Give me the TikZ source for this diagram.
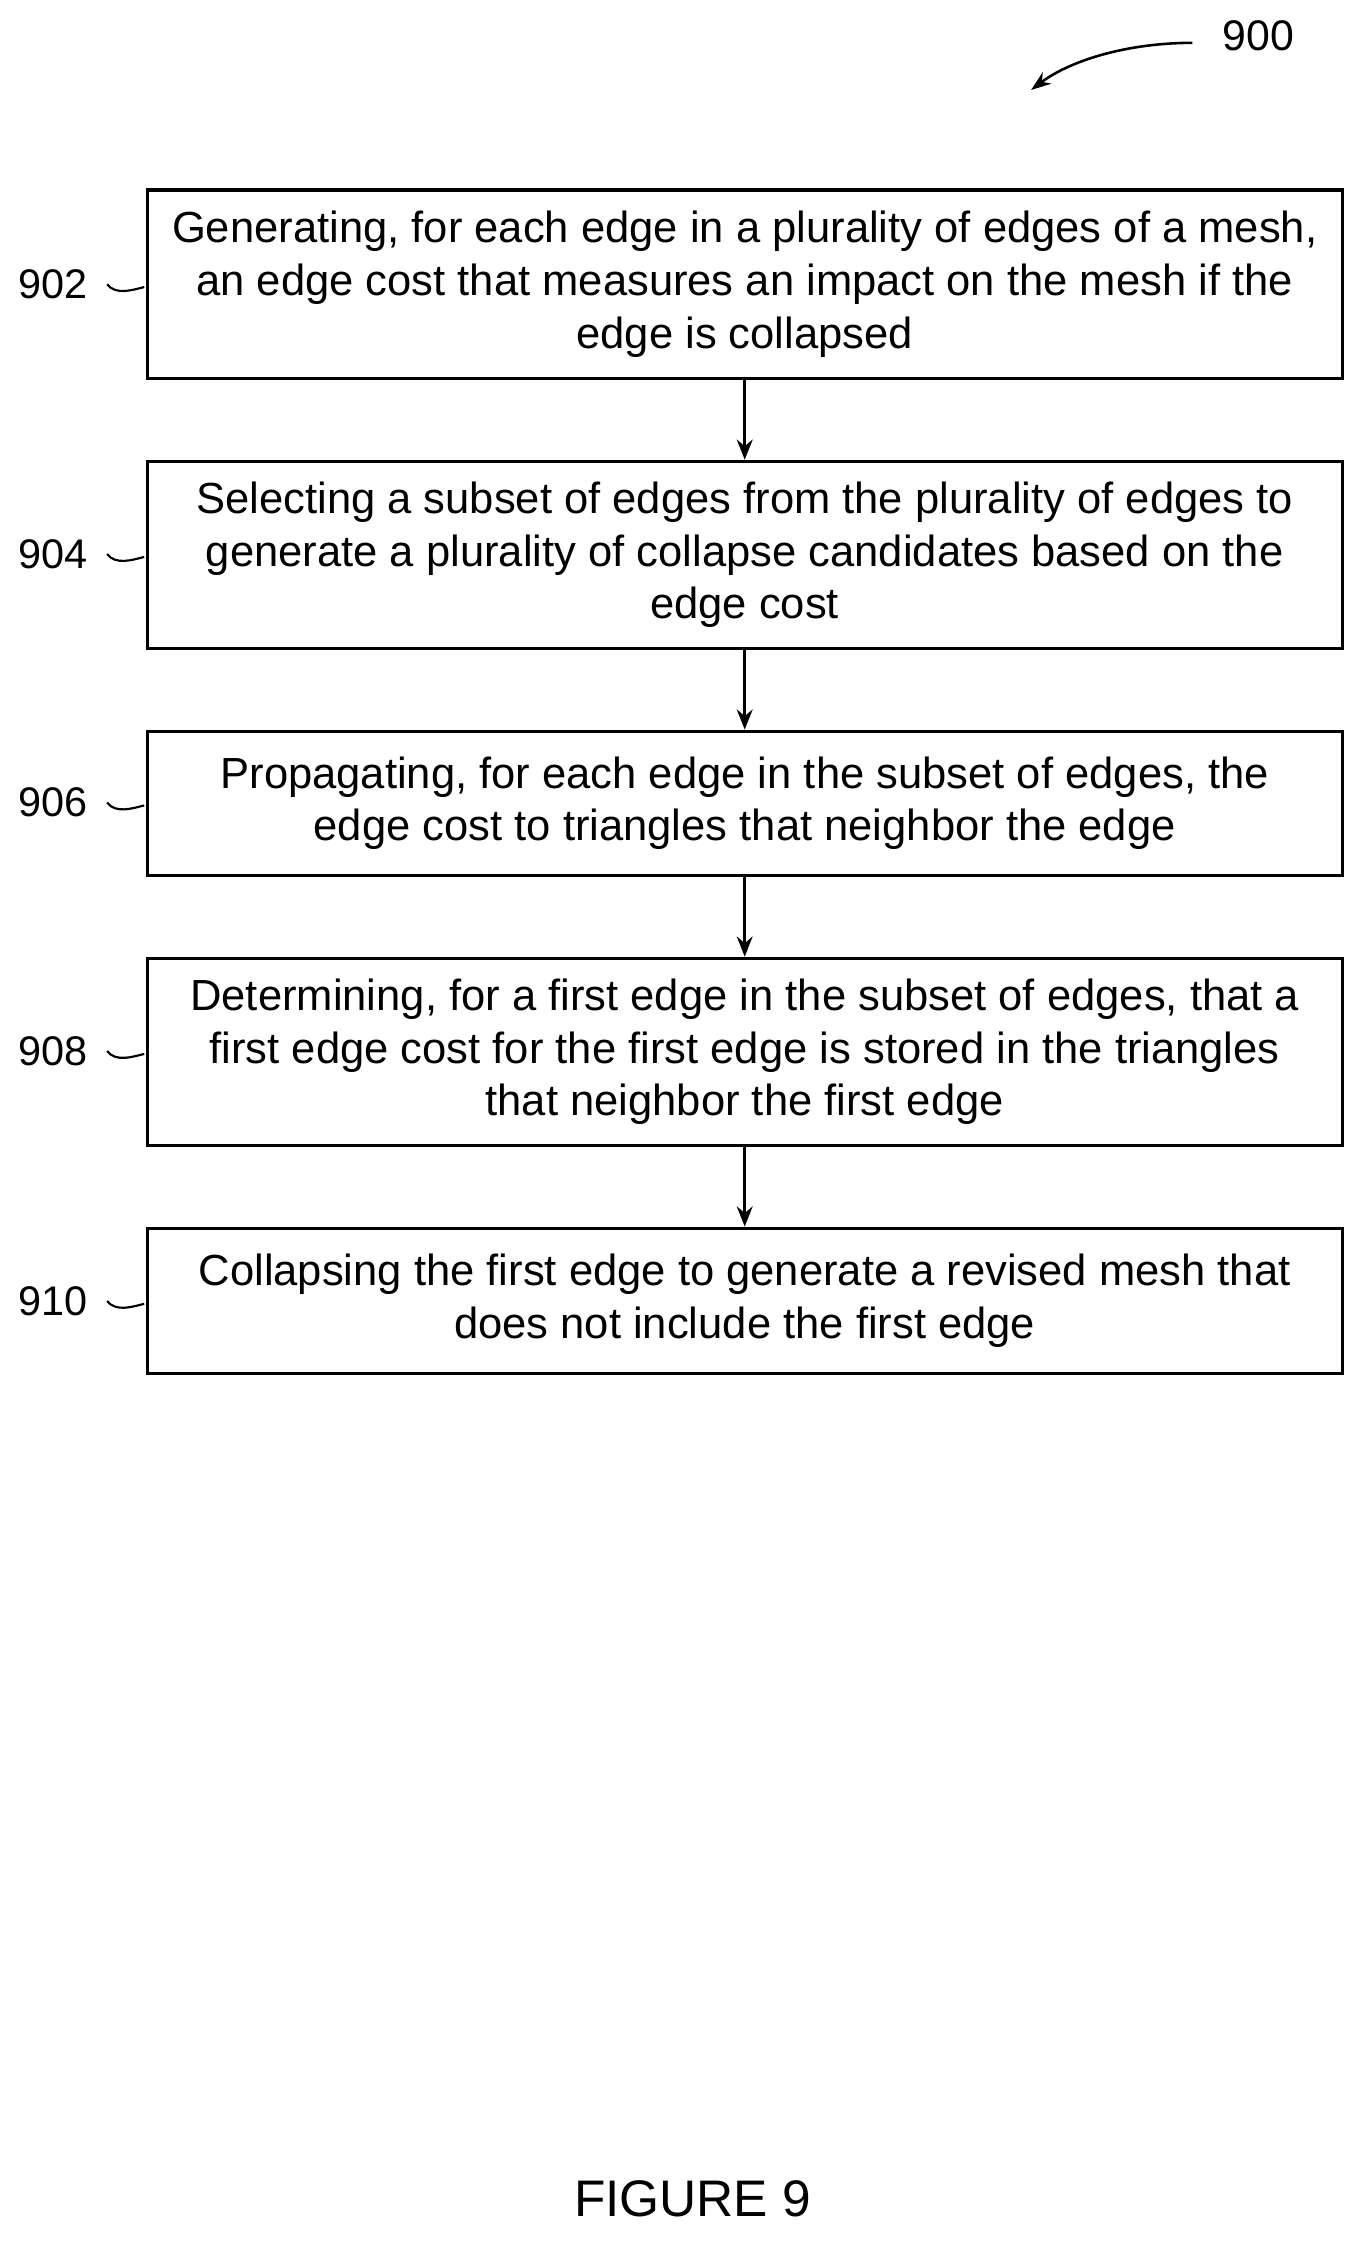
\documentclass[tikz,border=0pt]{standalone}
\usepackage{fontspec}
\setmainfont{Liberation Sans}
\usetikzlibrary{arrows.meta}
\begin{document}
\begin{tikzpicture}[x=1pt,y=-1pt,
  stepbox/.style={draw,line width=2.2pt,minimum width=837pt,align=center,inner sep=0pt,font=\fontsize{30.5}{37}\selectfont},
  lbl/.style={font=\fontsize{29}{30}\selectfont,anchor=east},
  arr/.style={-{Stealth[length=14pt,width=11pt]},line width=2.4pt},
  tild/.style={line width=1.5pt}]
\useasboundingbox (0,0) rectangle (960,1577);
\node[stepbox,minimum height=132pt] (b1) at (521.5,199) {Generating, for each edge in a plurality of edges of a mesh,\\an edge cost that measures an impact on the mesh if the\\edge is collapsed};
\node[stepbox,minimum height=131pt] (b2) at (521.5,388.5) {Selecting a subset of edges from the plurality of edges to\\generate a plurality of collapse candidates based on the\\edge cost};
\node[stepbox,minimum height=101pt] (b3) at (521.5,562.5) {Propagating, for each edge in the subset of edges, the\\edge cost to triangles that neighbor the edge};
\node[stepbox,minimum height=131pt] (b4) at (521.5,736.5) {Determining, for a first edge in the subset of edges, that a\\first edge cost for the first edge is stored in the triangles\\that neighbor the first edge};
\node[stepbox,minimum height=102pt] (b5) at (521.5,911) {Collapsing the first edge to generate a revised mesh that\\does not include the first edge};
\draw[arr] (b1) -- (b2);
\draw[arr] (b2) -- (b3);
\draw[arr] (b3) -- (b4);
\draw[arr] (b4) -- (b5);
\foreach \n/\t/\yy in {l1/902/199,l2/904/388,l3/906/562,l4/908/736,l5/910/911}{
  \node[lbl] (\n) at (65,\yy) {\t};
  \draw[tild] (\n.east) ++(10,0) .. controls +(6,8) and +(-8,2) .. +(26,2);
}
\node[font=\fontsize{30}{32}\selectfont] (n900) at (881,25) {900};
\coordinate (a0) at (835,30);
\draw[-{Stealth[length=14pt,width=10pt]},line width=1.8pt] (a0) .. controls (790,30) and (750,42) .. (722,63);
\node[font=\fontsize{36}{40}\selectfont] (fig) at (485,1540) {FIGURE 9};
\end{tikzpicture}
\end{document}
